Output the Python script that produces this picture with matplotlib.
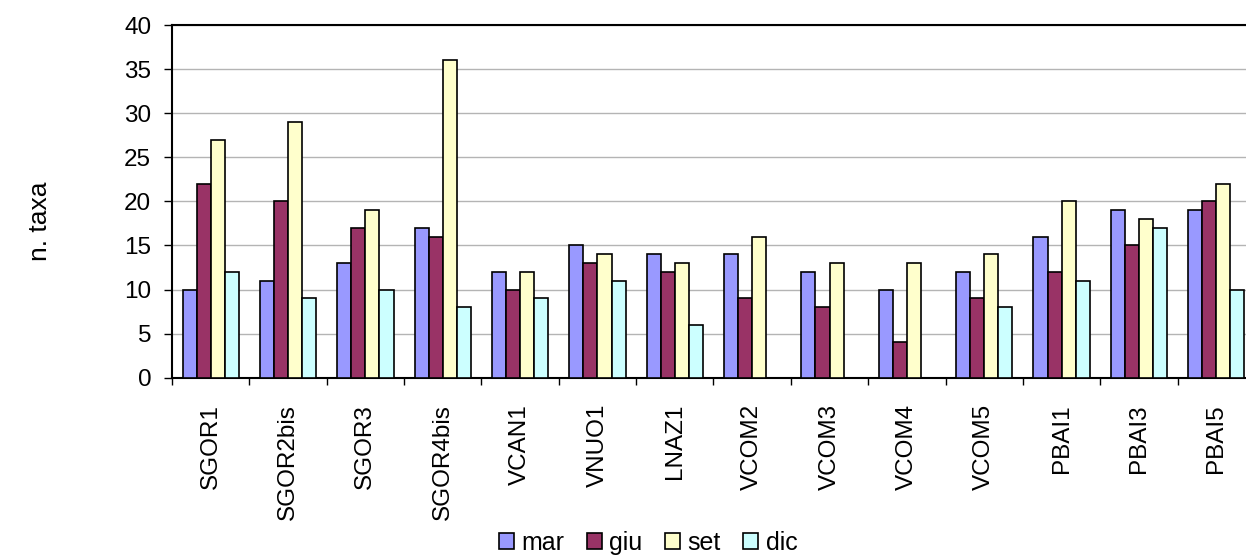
"""Number of taxa per station and season, grouped bar chart."""

import numpy as np
import matplotlib

matplotlib.use("Agg")
import matplotlib.pyplot as plt

plt.rcParams["font.family"] = ["Liberation Sans", "DejaVu Sans"]

stations = ["SGOR1", "SGOR2bis", "SGOR3", "SGOR4bis", "VCAN1", "VNUO1", "LNAZ1",
            "VCOM2", "VCOM3", "VCOM4", "VCOM5", "PBAI1", "PBAI3", "PBAI5"]
series_names = ["mar", "giu", "set", "dic"]
mar = [10, 11, 13, 17, 12, 15, 14, 14, 12, 10, 12, 16, 19, 19]
giu = [22, 20, 17, 16, 10, 13, 12, 9, 8, 4, 9, 12, 15, 20]
set_ = [27, 29, 19, 36, 12, 14, 13, 16, 13, 13, 14, 20, 18, 22]
dic = [12, 9, 10, 8, 9, 11, 6, 0, 0, 0, 8, 11, 17, 10]
colors = ["#9999FF", "#993366", "#FFFFCC", "#CCFFFF"]

fig = plt.figure(figsize=(12.46, 5.58), dpi=100)
ax = fig.add_axes([172 / 1246, 180.3 / 558, 1083 / 1246, 352.7 / 558])

x = np.arange(len(stations))
width = 0.182
for i, (vals, name, col) in enumerate(zip([mar, giu, set_, dic], series_names, colors)):
    ax.bar(x + (i - 1.5) * width, vals, width, color=col, edgecolor="black",
           linewidth=1.2, label=name, zorder=3)

ax.set_xlim(-0.5, len(stations) - 0.5)
ax.set_ylim(0, 40)
ax.set_yticks(np.arange(0, 41, 5))
ax.yaxis.grid(True, color="#b4b4b4", linewidth=1.0, zorder=0)
ax.set_axisbelow(True)

ax.set_xticks(x)
ax.set_xticklabels(stations, rotation=90, va="top", ha="center")
ax.set_xticks(np.arange(-0.5, len(stations), 1), minor=True)
ax.tick_params(axis="x", which="major", length=0, pad=19, labelsize=17.5)
ax.tick_params(axis="x", which="minor", length=5, width=1.0, direction="out")
ax.tick_params(axis="y", length=6, width=1.0, pad=9, labelsize=17.5)

for side in ["left", "bottom", "top"]:
    ax.spines[side].set_linewidth(1.5)
ax.spines["right"].set_visible(False)

fig.text(40 / 1246, 1 - 221 / 558, "n. taxa", rotation=90, ha="center", va="center",
         fontsize=19)

fig.legend(loc="center", bbox_to_anchor=(648 / 1246, 1 - 543 / 558), ncol=4,
           frameon=False, fontsize=18, handlelength=0.6, handleheight=0.6,
           handletextpad=0.3, columnspacing=0.9, borderpad=0.2)

fig.savefig("out.png", dpi=100)
